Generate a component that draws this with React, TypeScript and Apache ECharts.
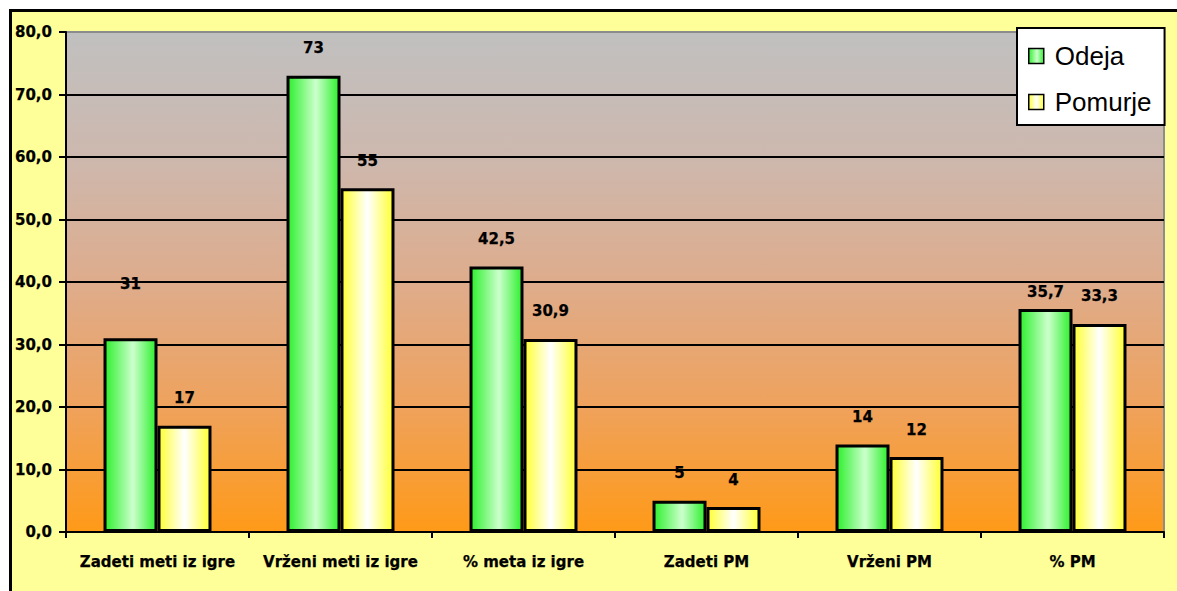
import React, { useEffect, useRef } from "react";
import * as echarts from "echarts";

const categories = [
  "Zadeti meti iz igre",
  "Vrženi meti iz igre",
  "% meta iz igre",
  "Zadeti PM",
  "Vrženi PM",
  "% PM",
];
const odeja = [31, 73, 42.5, 5, 14, 35.7];
const pomurje = [17, 55, 30.9, 4, 12, 33.3];
const seriesNames = ["Odeja", "Pomurje"];
const yTicks = [0, 10, 20, 30, 40, 50, 60, 70, 80];

// label nudges (px) reproducing the source's manually placed labels
const odejaLabelNudge = [-27, 0, 0, 0, 0, 11];
const pomurjeLabelNudge = [0, 0, 0, 0, 0, 0];

const fmt = (v: number) => (Number.isInteger(v) ? String(v) : String(v).replace(".", ","));

export default function App() {
  const ref = useRef<HTMLDivElement>(null);
  useEffect(() => {
    if (!ref.current) return;
    const chart = echarts.init(ref.current, undefined, { renderer: "svg" });
    const green = new echarts.graphic.LinearGradient(0, 0, 1, 0, [
      { offset: 0, color: "#2EF02E" },
      { offset: 0.55, color: "#CCFFCC" },
      { offset: 1, color: "#2EF02E" },
    ]);
    const yellow = new echarts.graphic.LinearGradient(0, 0, 1, 0, [
      { offset: 0, color: "#FFFF33" },
      { offset: 0.5, color: "#FFFFFF" },
      { offset: 1, color: "#FFFF33" },
    ]);
    const labelFont = {
      fontFamily: "DejaVu Sans",
      fontWeight: "bold" as const,
      fontSize: 15,
      color: "#000",
      textBorderColor: "#000",
      textBorderWidth: 0.25,
    };
    const mk = (vals: number[], nudges: number[]) =>
      vals.map((v, i) => ({
        value: v,
        label: { offset: [0, nudges[i]] },
      }));
    chart.setOption({
      animation: false,
      graphic: [
        {
          type: "rect",
          z: -10,
          silent: true,
          shape: { x: 10.5, y: 10.5, width: 1300, height: 700 },
          style: { fill: "#FFFF99", stroke: "#000", lineWidth: 3 },
        },
      ],
      grid: {
        left: 66,
        top: 32,
        right: 13,
        bottom: 59,
        show: true,
        backgroundColor: new echarts.graphic.LinearGradient(0, 0, 0, 1, [
          { offset: 0, color: "#C0C0C0" },
          { offset: 0.25, color: "#CDB8AE" },
          { offset: 0.5, color: "#DEAC8C" },
          { offset: 0.75, color: "#EFA25C" },
          { offset: 1, color: "#FF9A18" },
        ]),
        borderColor: "#8C8C8C",
        borderWidth: 2,
      },
      legend: {
        orient: "vertical",
        left: 1017,
        top: 28,
        data: seriesNames,
        backgroundColor: "#FFFFFF",
        borderColor: "#000",
        borderWidth: 2,
        padding: [15, 13, 10, 11],
        itemGap: 20,
        itemWidth: 15,
        itemHeight: 15,
        icon: "rect",
        itemStyle: { borderWidth: 1.5, borderColor: "#000" },
        textStyle: {
          fontFamily: "Liberation Sans",
          fontSize: 26,
          color: "#000",
          padding: [0, 0, 0, 6],
        },
      },
      xAxis: {
        type: "category",
        data: categories,
        axisLine: { lineStyle: { color: "#000", width: 2 } },
        axisTick: { show: true, length: 6, lineStyle: { color: "#000", width: 2 } },
        axisLabel: { ...labelFont, margin: 22, interval: 0 },
      },
      yAxis: {
        type: "value",
        min: yTicks[0],
        max: yTicks[yTicks.length - 1],
        interval: 10,
        axisLine: { show: true, lineStyle: { color: "#000", width: 2 } },
        axisTick: { show: true, length: 7, lineStyle: { color: "#000", width: 2 } },
        axisLabel: {
          ...labelFont,
          margin: 14,
          formatter: (v: number) => v.toFixed(1).replace(".", ","),
        },
        splitLine: { show: true, showMaxLine: false, lineStyle: { color: "#000", width: 2 } },
      },
      series: [
        {
          name: seriesNames[0],
          type: "bar",
          data: mk(odeja, odejaLabelNudge),
          barGap: "0%",
          barCategoryGap: "41%",
          itemStyle: { color: green, borderColor: "#000", borderWidth: 3 },
          label: {
            show: true,
            position: "top",
            distance: 20,
            ...labelFont,
            formatter: (p: any) => fmt(p.value),
          },
        },
        {
          name: seriesNames[1],
          type: "bar",
          data: mk(pomurje, pomurjeLabelNudge),
          barGap: "0%",
          barCategoryGap: "41%",
          itemStyle: { color: yellow, borderColor: "#000", borderWidth: 3 },
          label: {
            show: true,
            position: "top",
            distance: 20,
            ...labelFont,
            formatter: (p: any) => fmt(p.value),
          },
        },
      ],
    });
    return () => chart.dispose();
  }, []);
  return (
    <div
      ref={ref}
      style={{ position: "fixed", left: 0, top: 0, width: 1177, height: 591, background: "#fff" }}
    />
  );
}
